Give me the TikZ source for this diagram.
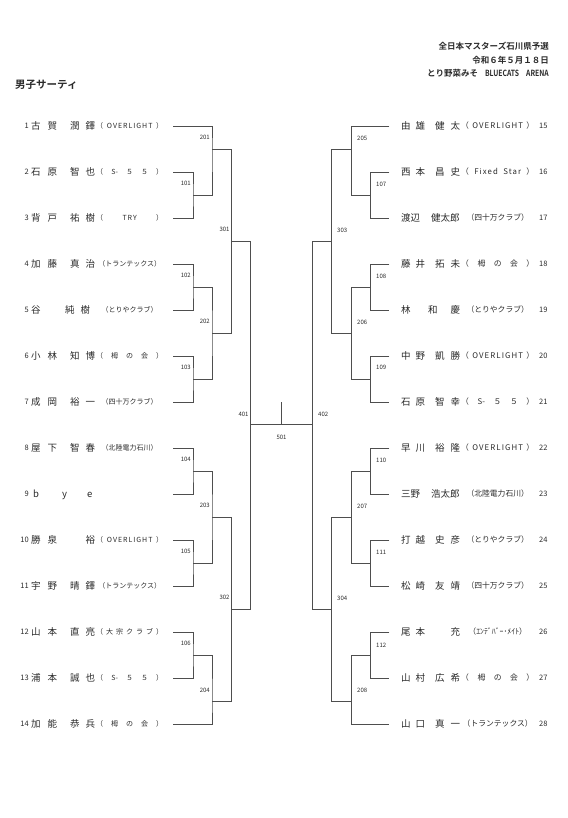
\documentclass[tikz,border=0pt]{standalone}
\usepackage{fontspec}
\setmainfont{Noto Sans CJK JP}[BoldFont={Noto Sans CJK JP Bold}]
\usepackage{graphicx}
\definecolor{ink}{HTML}{2B2B2B}
\definecolor{linec}{HTML}{4E4E4E}
\newcommand\lat[1]{{\addfontfeature{LetterSpace=14}#1}}
\newcommand\clOV{（\hfill\lat{OVERLIGHT}\hfill）}
\newcommand\clSF{（\hfill S-\hfill ５\hfill ５\hfill）}
\newcommand\clTRY{（\hfill\lat{TRY}\hfill）}
\newcommand\clTR{\hfill（トランテックス）\hfill}
\newcommand\clTO{\hfill（とりやクラブ）\hfill}
\newcommand\clTG{（\hfill 栂\hfill の\hfill 会\hfill）}
\newcommand\clSJ{\hfill（四十万クラブ）\hfill}
\newcommand\clHR{\hfill（北陸電力石川）\hfill}
\newcommand\clTA{（\hfill 大\hfill 宗\hfill ク\hfill ラ\hfill ブ\hfill）}
\newcommand\clFS{（\hfill\lat{Fixed}\hfill\lat{Star}\hfill）}
\newcommand\clEM{\hfill（ｴﾝﾃﾞﾊﾞｰ･ﾒｲﾄ）\hfill}
\newcommand\Lrow[6]{%
 \node[num,anchor=base east] (#1n) at (29,{#2+2.6}) {#3};
 \node[nm] (#1s) at (31,{#2+3.4}) {\makebox[26pt][l]{#4}};
 \node[nm] (#1g) at (70,{#2+3.4}) {\makebox[25pt][l]{#5}};
 \node[cl] (#1c) at (96,{#2+2.5}) {\makebox[67pt][l]{#6}};
 \coordinate (#1) at (173,#2);
}
\newcommand\Rrow[6]{%
 \node[nm] (#1s) at (401,{#2+3.4}) {\makebox[24pt][l]{#4}};
 \node[nm] (#1g) at (435,{#2+3.4}) {\makebox[25pt][l]{#5}};
 \node[clr] (#1c) at (461,{#2+2.8}) {\makebox[73pt][l]{#6}};
 \node[num,anchor=base west] (#1n) at (539,{#2+2.6}) {#3};
 \coordinate (#1) at (389.3,#2);
}
\begin{document}
\begin{tikzpicture}[x=1pt,y=-1pt,
  nm/.style={anchor=base west,inner sep=0pt,text=ink,font=\fontsize{9.5}{10}\selectfont},
  cl/.style={anchor=base west,inner sep=0pt,text=ink,font=\fontsize{7}{8}\selectfont},
  clr/.style={anchor=base west,inner sep=0pt,text=ink,font=\fontsize{7.8}{8}\selectfont},
  num/.style={inner sep=0pt,text=ink,font=\fontsize{7.5}{8}\selectfont},
  lbl/.style={inner sep=0pt,text=ink,font=\fontsize{6}{6}\selectfont},
  hd/.style={inner sep=0pt,text=ink,font=\bfseries\fontsize{8.5}{9}\selectfont},
  br/.style={draw=linec,line width=0.9pt}]
\useasboundingbox[fill=white] (0,0) rectangle (567,818);

% header
\node[hd,anchor=base east] (h1) at (549,50) {全日本マスターズ石川県予選};
\node[hd,anchor=base east] (h2) at (549,64) {令和６年５月１８日};
\node[hd,anchor=base east] (h3) at (549,77) {とり野菜みそ\hspace{7pt}\scalebox{0.8}[1]{BLUECATS}\hspace{7pt}\scalebox{0.8}[1]{ARENA}};
\node[hd,anchor=base west,font=\bfseries\fontsize{10.5}{11}\selectfont] (title) at (15,89) {男子サーティ};

% left players
\Lrow{L1}{126}{1}{古\hfill 賀}{潤\hfill 鐸}{\clOV}
\Lrow{L2}{172}{2}{石\hfill 原}{智\hfill 也}{\clSF}
\Lrow{L3}{218}{3}{背\hfill 戸}{祐\hfill 樹}{\clTRY}
\Lrow{L4}{264}{4}{加\hfill 藤}{真\hfill 治}{\clTR}
\Lrow{L5}{310}{5}{谷}{\hspace*{-5pt}純\hfill 樹\hspace*{5pt}}{\clTO}
\Lrow{L6}{356}{6}{小\hfill 林}{知\hfill 博}{\clTG}
\Lrow{L7}{402}{7}{成\hfill 岡}{裕\hfill 一}{\clSJ}
\Lrow{L8}{448}{8}{屋\hfill 下}{智\hfill 春}{\clHR}
\node[num,anchor=base east] (L9n) at (29,496.6) {9};
\node[nm] (L9a) at (33,497.4) {b};
\node[nm] (L9b) at (62,497.4) {y};
\node[nm] (L9c) at (87,497.4) {e};
\coordinate (L9) at (173,494);
\Lrow{L10}{540}{10}{勝\hfill 泉}{\hfill 裕}{\clOV}
\Lrow{L11}{586}{11}{宇\hfill 野}{晴\hfill 鐸}{\clTR}
\Lrow{L12}{632}{12}{山\hfill 本}{直\hfill 亮}{\clTA}
\Lrow{L13}{678}{13}{浦\hfill 本}{誠\hfill 也}{\clSF}
\Lrow{L14}{724}{14}{加\hfill 能}{恭\hfill 兵}{\clTG}

% right players
\Rrow{R15}{126}{15}{由\hfill 雄}{健\hfill 太}{\clOV}
\Rrow{R16}{172}{16}{西\hfill 本}{昌\hfill 史}{\clFS}
\Rrow{R17}{218}{17}{渡辺}{\hspace*{-4pt}健太郎}{\clSJ}
\Rrow{R18}{264}{18}{藤\hfill 井}{拓\hfill 未}{\clTG}
\Rrow{R19}{310}{19}{林}{\hspace*{-7pt}和\hfill 慶}{\clTO}
\Rrow{R20}{356}{20}{中\hfill 野}{凱\hfill 勝}{\clOV}
\Rrow{R21}{402}{21}{石\hfill 原}{智\hfill 幸}{\clSF}
\Rrow{R22}{448}{22}{早\hfill 川}{裕\hfill 隆}{\clOV}
\Rrow{R23}{494}{23}{三野}{\hspace*{-4pt}浩太郎}{\clHR}
\Rrow{R24}{540}{24}{打\hfill 越}{史\hfill 彦}{\clTO}
\Rrow{R25}{586}{25}{松\hfill 崎}{友\hfill 靖}{\clSJ}
\Rrow{R26}{632}{26}{尾\hfill 本}{\hfill 充}{\clEM}
\Rrow{R27}{678}{27}{山\hfill 村}{広\hfill 希}{\clTG}
\Rrow{R28}{724}{28}{山\hfill 口}{真\hfill 一}{\clTR}

% left junctions
\coordinate (V101) at (193,195);
\coordinate (V102) at (193,287);
\coordinate (V103) at (193,379);
\coordinate (V104) at (193,471);
\coordinate (V105) at (193,563);
\coordinate (V106) at (193,655);
\coordinate (V201) at (212,149);
\coordinate (V202) at (212,333);
\coordinate (V203) at (212,517);
\coordinate (V204) at (212,701.5);
\coordinate (V301) at (231.7,241);
\coordinate (V302) at (231.7,609);
\coordinate (V401) at (250.7,424.5);
\coordinate (V501) at (281.5,424.5);
\coordinate (T501) at (281.5,402);
% right junctions
\coordinate (W107) at (370.7,195);
\coordinate (W108) at (370.7,287);
\coordinate (W109) at (370.7,379);
\coordinate (W110) at (370.7,471);
\coordinate (W111) at (370.7,563);
\coordinate (W112) at (370.7,655);
\coordinate (W205) at (351.7,149);
\coordinate (W206) at (351.7,333);
\coordinate (W207) at (351.7,517);
\coordinate (W208) at (351.7,701.5);
\coordinate (W303) at (331.7,241);
\coordinate (W304) at (331.7,609);
\coordinate (V402) at (312.3,424.5);

% left bracket
\draw[br] (L2) -| (V101) |- (L3);
\draw[br] (L1) -| (V201) |- (V101);
\draw[br] (L4) -| (V102) |- (L5);
\draw[br] (L6) -| (V103) |- (L7);
\draw[br] (V102) -| (V202) |- (V103);
\draw[br] (V201) -| (V301) |- (V202);
\draw[br] (L8) -| (V104) |- (L9);
\draw[br] (L10) -| (V105) |- (L11);
\draw[br] (V104) -| (V203) |- (V105);
\draw[br] (L12) -| (V106) |- (L13);
\draw[br] (V106) -| (V204) |- (L14);
\draw[br] (V203) -| (V302) |- (V204);
\draw[br] (V301) -| (V401) |- (V302);
% right bracket
\draw[br] (R16) -| (W107) |- (R17);
\draw[br] (R15) -| (W205) |- (W107);
\draw[br] (R18) -| (W108) |- (R19);
\draw[br] (R20) -| (W109) |- (R21);
\draw[br] (W108) -| (W206) |- (W109);
\draw[br] (W205) -| (W303) |- (W206);
\draw[br] (R22) -| (W110) |- (R23);
\draw[br] (R24) -| (W111) |- (R25);
\draw[br] (W110) -| (W207) |- (W111);
\draw[br] (R26) -| (W112) |- (R27);
\draw[br] (W112) -| (W208) |- (R28);
\draw[br] (W207) -| (W304) |- (W208);
\draw[br] (W303) -| (V402) |- (W304);
% final
\draw[br] (V401) -- (V402);
\draw[br] (V501) -- (T501);

% match labels left
\node[lbl,anchor=east] (n101) at (191,183.5) {101};
\node[lbl,anchor=east] (n102) at (191,275.5) {102};
\node[lbl,anchor=east] (n103) at (191,367.5) {103};
\node[lbl,anchor=east] (n104) at (191,459.5) {104};
\node[lbl,anchor=east] (n105) at (191,551.5) {105};
\node[lbl,anchor=east] (n106) at (191,643.5) {106};
\node[lbl,anchor=east] (n201) at (210,137.5) {201};
\node[lbl,anchor=east] (n202) at (210,321.5) {202};
\node[lbl,anchor=east] (n203) at (210,505.5) {203};
\node[lbl,anchor=east] (n204) at (210,690) {204};
\node[lbl,anchor=east] (n301) at (229.7,229.5) {301};
\node[lbl,anchor=east] (n302) at (229.7,597.5) {302};
\node[lbl,anchor=east] (n401) at (248.7,414) {401};
\node[lbl] (n501) at (281.5,437) {501};
% match labels right
\node[lbl,anchor=west] (n107) at (376,184.5) {107};
\node[lbl,anchor=west] (n108) at (376,276) {108};
\node[lbl,anchor=west] (n109) at (376,367.5) {109};
\node[lbl,anchor=west] (n110) at (376,460) {110};
\node[lbl,anchor=west] (n111) at (376,552) {111};
\node[lbl,anchor=west] (n112) at (376,645) {112};
\node[lbl,anchor=west] (n205) at (357,138) {205};
\node[lbl,anchor=west] (n206) at (357,322) {206};
\node[lbl,anchor=west] (n207) at (357,506.5) {207};
\node[lbl,anchor=west] (n208) at (357,690.5) {208};
\node[lbl,anchor=west] (n303) at (337,230.5) {303};
\node[lbl,anchor=west] (n304) at (337,598) {304};
\node[lbl,anchor=west] (n402) at (318,414) {402};
\end{tikzpicture}
\end{document}
